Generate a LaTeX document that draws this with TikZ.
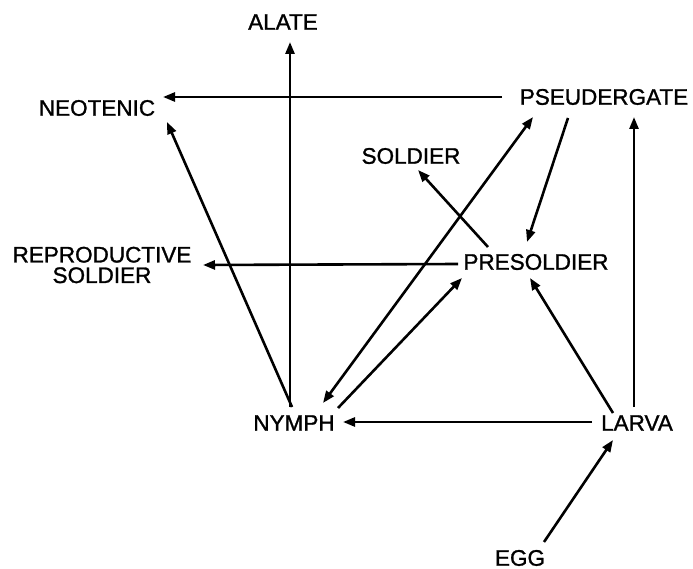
\documentclass[tikz,border=0pt]{standalone}
\usepackage{fontspec}
\setmainfont{Liberation Sans}[BoldFont={Liberation Sans},BoldFeatures={FakeBold=1.2}]
\usetikzlibrary{calc,arrows.meta}
\begin{document}
\begin{tikzpicture}[x=1pt,y=-1pt,
  lbl/.style={inner sep=0pt,font=\fontsize{22.5}{20.5}\selectfont\bfseries,align=center},
  arr/.style={line width=2.6pt,-{Triangle[length=12pt,width=9pt]}},
  arrb/.style={line width=2.6pt,{Triangle[length=12pt,width=9pt]}-{Triangle[length=12pt,width=9pt]}}]
\useasboundingbox (0,0) rectangle (693,569);
\node[lbl] (alate) at (283,22) {ALATE};
\node[lbl] (neotenic) at (97,108) {NEOTENIC};
\node[lbl] (pseud) at (604,97) {PSEUDERGATE};
\node[lbl] (soldier) at (411,156) {SOLDIER};
\node[lbl] (presoldier) at (536,262) {PRESOLDIER};
\node[lbl] (repro) at (102,265) {REPRODUCTIVE\\SOLDIER};
\node[lbl] (nymph) at (294,423) {NYMPH};
\node[lbl] (larva) at (637,423) {LARVA};
\node[lbl] (egg) at (520,558) {EGG};
\draw[arr] ($(nymph)+(-4,-16)$) -- ($(alate)+(7,20)$);
\draw[arr] ($(nymph)+(-2,-16)$) -- ($(neotenic)+(70,14)$);
\draw[arrb] ($(nymph)+(29,-20)$) -- ($(pseud)+(-71,20)$);
\draw[arr] ($(nymph)+(44,-15)$) -- ($(presoldier)+(-74,16)$);
\draw[arr] ($(pseud)+(-36,21)$) -- ($(presoldier)+(-9,-20)$);
\draw[arr] ($(larva)+(-24,-10)$) -- ($(presoldier)+(-6,16)$);
\draw[arr] ($(larva)+(-3,-16)$) -- ($(pseud)+(30,20)$);
\draw[arr] ($(larva)+(-45,-1)$) -- ($(nymph)+(49,-1)$);
\draw[arr] ($(egg)+(24,-16)$) -- ($(larva)+(-24,17)$);
\draw[arr] ($(presoldier)+(-48,-15)$) -- ($(soldier)+(7,14)$);
\draw[arr] ($(presoldier)+(-78,2)$) -- ($(repro)+(101,0)$);
\draw[arr] ($(pseud)+(-102,0)$) -- ($(neotenic)+(66,-11)$);
\end{tikzpicture}
\end{document}
